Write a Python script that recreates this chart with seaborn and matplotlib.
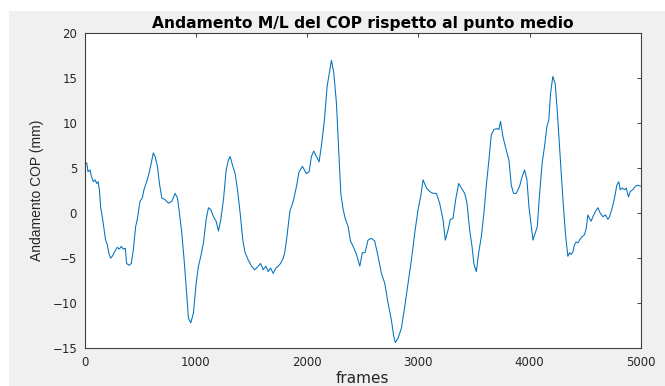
import matplotlib
matplotlib.use("Agg")
import matplotlib.pyplot as plt
from matplotlib.patches import Rectangle
import seaborn as sns
import pandas as pd

# ---- data ----
frames = [0, 18, 30, 48, 60, 78, 93, 108, 120, 132, 144, 158, 173, 188, 203, 218, 233,
          248, 269, 293, 311, 329, 347, 365, 377, 398, 419, 437, 458, 473, 497, 518,
          533, 557, 578, 599, 617,
          633, 654, 672, 693, 723, 753, 783, 813, 834, 852, 873, 894, 912, 933, 954,
          978, 1002, 1023, 1044, 1068, 1092, 1113, 1134, 1158, 1182, 1203, 1224, 1248,
          1272, 1293, 1308, 1332, 1353, 1374, 1398, 1422,
          1440, 1470, 1500, 1530, 1560, 1581, 1605, 1629, 1650, 1671, 1695, 1719, 1740,
          1761, 1785, 1800, 1815,
          1845, 1875, 1905, 1928, 1958, 1994, 2018, 2039, 2060, 2084, 2108, 2132, 2156,
          2180, 2204, 2219, 2240, 2264, 2285, 2303, 2324, 2345, 2369, 2390, 2414, 2444,
          2474, 2497, 2521, 2548, 2578, 2608, 2638, 2668, 2698, 2728, 2758, 2779, 2794,
          2818, 2848, 2878, 2908, 2938, 2968, 2998, 3022, 3043, 3073, 3103, 3133, 3163,
          3192, 3222, 3243, 3267, 3288, 3312, 3336, 3363, 3387, 3417, 3438, 3462, 3483,
          3501, 3522, 3543, 3567, 3590, 3611, 3635, 3656, 3680, 3707, 3725, 3740, 3761,
          3791, 3815, 3836, 3857, 3881, 3911, 3935, 3956, 3977, 3995, 4013, 4031, 4052,
          4070, 4091, 4114, 4135, 4156, 4174, 4189, 4210, 4231, 4249, 4270,
          4286, 4306, 4324, 4345, 4360, 4375, 4390, 4405, 4420, 4435, 4450, 4474, 4495,
          4510, 4525, 4540, 4555, 4570, 4594, 4615, 4636, 4660, 4684, 4705, 4720, 4744,
          4765, 4785, 4803, 4816, 4834, 4855, 4870, 4890, 4906, 4929, 4953, 4974, 5000]
cop_ml = [5.4, 5.6, 4.6, 4.8, 4.1, 3.5, 3.7, 3.3, 3.5, 2.6, 0.6, -0.4, -1.7, -3.0, -3.5,
          -4.5, -5.0, -4.8, -4.3, -3.8, -4.0, -3.7, -4.0, -3.9, -5.6, -5.8, -5.6, -4.1,
          -1.5, -0.7, 1.3, 1.7, 2.6, 3.5, 4.4, 5.6, 6.7,
          6.3, 5.2, 3.3, 1.7, 1.5, 1.1, 1.3, 2.2, 1.7, 0.0, -2.2, -5.2, -8.1, -11.7,
          -12.2, -11.1, -7.8, -5.9, -4.8, -3.3, -0.7, 0.6, 0.4, -0.4, -0.9, -2.0, -0.7,
          1.5, 4.8, 5.9, 6.3, 5.2, 4.4, 2.6, 0.0, -3.0,
          -4.3, -5.2, -5.9, -6.3, -5.9, -5.6, -6.3, -5.9, -6.5, -6.1, -6.7, -6.1, -5.9,
          -5.6, -5.0, -4.3, -3.0,
          0.2, 1.3, 3.0, 4.6, 5.2, 4.4, 4.6, 6.3, 6.9, 6.3, 5.7, 7.8, 10.4,
          14.1, 15.9, 17.0, 15.6, 12.2, 6.7, 2.2, 0.4, -0.7, -1.5, -3.1, -3.7, -4.6,
          -5.9, -4.4, -4.4, -3.0, -2.8, -3.1, -4.8, -6.7, -7.8, -10.0, -11.9, -13.7, -14.4,
          -13.9, -12.8, -10.4, -7.8, -5.2, -2.2, 0.4, 1.9, 3.7, 2.8, 2.4, 2.2, 2.2,
          1.1, -0.7, -3.0, -1.9, -0.7, -0.6, 1.5, 3.3, 2.8, 2.2, 1.1, -1.9, -3.7,
          -5.7, -6.5, -4.4, -2.6, 0.0, 3.0, 5.9, 8.7, 9.3, 9.4, 9.3, 10.2, 8.5,
          7.0, 5.9, 3.1, 2.2, 2.2, 3.0, 4.1, 4.8, 3.7, 0.7, -1.1, -3.0, -2.2,
          -1.5, 2.2, 5.6, 7.4, 9.6, 10.4, 13.3, 15.2, 14.4, 11.5, 7.4,
          4.3, 0.6, -2.4, -4.8, -4.4, -4.6, -4.3, -3.5, -3.2, -3.3, -3.0, -2.6, -2.4,
          -1.7, -0.2, -0.6, -0.9, -0.4, 0.2, 0.6, 0.0, -0.4, -0.2, -0.7, -0.4, 0.6,
          1.7, 3.1, 3.5, 2.6, 2.8, 2.6, 2.8, 1.8, 2.4, 2.6, 3.0, 3.1, 3.0]
x_ticks = [0, 1000, 2000, 3000, 4000, 5000]
y_ticks = [-15, -10, -5, 0, 5, 10, 15, 20]
title = "Andamento M/L del COP rispetto al punto medio"
x_label = "frames"
y_label = "Andamento COP (mm)"

df = pd.DataFrame({"frame": frames, "cop": cop_ml})

sns.set_theme(style="white")
plt.rcParams["font.family"] = ["DejaVu Sans"]

W, H = 665, 386
fig = plt.figure(figsize=(W / 100, H / 100), dpi=100, facecolor="white")
fig.patches.append(Rectangle((9 / W, 0), 1 - 9 / W, 1 - 11 / H, transform=fig.transFigure,
                             facecolor="#f0f0f0", edgecolor="none", zorder=-10))

left, right, top, bottom = 84.7, 640.7, 33.3, 348.0
ax = fig.add_axes([left / W, (H - bottom) / H, (right - left) / W, (bottom - top) / H])
ax.set_facecolor("white")

sns.lineplot(data=df, x="frame", y="cop", ax=ax, color="#0072BD", linewidth=0.75,
             estimator=None, sort=False)

ax.set_xlim(0, 5000)
ax.set_ylim(-15, 20)
ax.set_xticks(x_ticks)
ax.set_yticks(y_ticks)
ax.tick_params(axis="both", direction="in", length=3, width=0.7, color="#404040",
               labelsize=8.5, labelcolor="#262626", top=True, right=True, pad=5.5)
for s in ax.spines.values():
    s.set_visible(True)
    s.set_color("#404040")
    s.set_linewidth(0.8)

ax.set_title(title, fontsize=11.2, fontweight="bold", color="black", pad=4)
ax.set_xlabel(x_label, fontsize=11, color="#262626")
ax.set_ylabel(y_label, fontsize=10, color="#262626",
              family=["Liberation Sans", "DejaVu Sans"])
ax.xaxis.set_label_coords(0.5, -0.072)
ax.yaxis.label.set_va("center")
ax.yaxis.set_label_coords(-0.086, 0.5)

fig.savefig("out.png", dpi=100, facecolor=fig.get_facecolor())
